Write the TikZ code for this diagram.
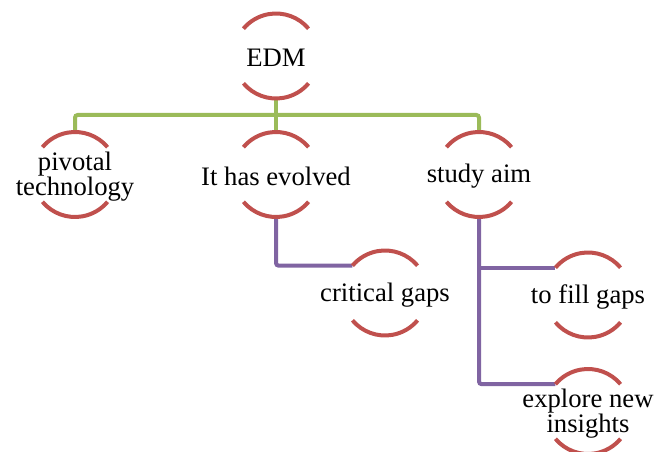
\documentclass[tikz,border=0pt]{standalone}
\usepackage{fontspec}
\setmainfont{Liberation Serif}
\definecolor{arcred}{HTML}{C0504D}
\definecolor{treegreen}{HTML}{9BBB59}
\definecolor{treepurple}{HTML}{8064A2}
\begin{document}
\begin{tikzpicture}[x=0.75pt,y=-0.75pt,
  bub/.style={circle, draw=none, minimum size=63.75pt, inner sep=0pt, outer sep=0pt,
    label={[font=\fontsize{20}{19.2}\selectfont, align=center, inner sep=0pt, yshift=-1.5pt]center:#1}},
  arcline/.style={draw=arcred, line width=3pt},
  gline/.style={draw=treegreen, line width=3pt, rounded corners=2pt},
  pline/.style={draw=treepurple, line width=3pt, rounded corners=2pt}]
\useasboundingbox (0,0) rectangle (669,452);
\clip (0,0) rectangle (669,452);

% bubbles
\node[bub={EDM}] (edm) at (276,56) {};
\node[bub={pivotal\\technology}] (piv) at (75,174.5) {};
\node[bub={It has evolved}] (evo) at (276,174.5) {};
\node[bub={study aim}] (aim) at (479,174.5) {};
\node[bub={critical gaps}] (crit) at (385,293) {};
\node[bub={to fill gaps}] (fill) at (588,295) {};
\node[bub={explore new\\insights}] (expl) at (588,411.5) {};

% green connectors from the root
\draw[gline] (edm.south) -- (evo.north);
\coordinate (gbus) at (276,115);
\draw[gline] (piv.north) |- (gbus) -| (aim.north);

% purple connectors to the third level
\draw[pline] (evo.south) |- (crit.140);
\draw[pline] (aim.south) |- (expl.140);
\draw[pline] (aim.south |- fill.140) -- (fill.140);

% top and bottom arcs of every bubble
\foreach \n in {edm,piv,evo,aim,crit,fill,expl}{
  \draw[arcline] (\n.40) arc (40:140:31.875pt);
  \draw[arcline] (\n.220) arc (220:320:31.875pt);
}
\end{tikzpicture}
\end{document}
